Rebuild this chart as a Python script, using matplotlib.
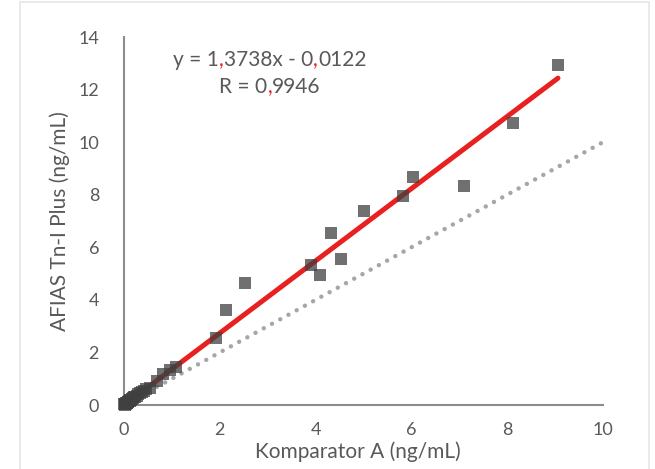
import matplotlib.pyplot as plt
from matplotlib.patches import Rectangle

plt.rcParams['font.family'] = ['Lato', 'DejaVu Sans']

TEXT = '#595959'

# Komparator A (x) vs AFIAS Tn-I Plus (y), ng/mL
komparator = [0.01, 0.02, 0.02, 0.03, 0.04, 0.05, 0.06, 0.07, 0.08, 0.09,
              0.10, 0.12, 0.13, 0.15, 0.17, 0.19, 0.21, 0.24, 0.27, 0.30,
              0.33, 0.37, 0.41, 0.45, 0.55, 0.69, 0.82, 0.97, 1.08,
              1.92, 2.13, 2.53, 3.90, 4.09, 4.32, 4.53, 5.01, 5.82, 6.03,
              7.10, 8.12, 9.06]
afias = [0.02, 0.01, 0.04, 0.03, 0.06, 0.05, 0.08, 0.09, 0.10, 0.13,
         0.14, 0.15, 0.19, 0.20, 0.23, 0.25, 0.29, 0.31, 0.36, 0.40,
         0.46, 0.50, 0.55, 0.60, 0.66, 0.92, 1.18, 1.34, 1.45,
         2.56, 3.63, 4.66, 5.34, 4.96, 6.56, 5.57, 7.37, 7.94, 8.66,
         8.32, 10.72, 12.95]

slope = 1.3738
intercept = -0.0122
identity = [0, 10]

fig = plt.figure(figsize=(6.55, 4.69), dpi=100)
fig.patches.append(Rectangle((20 / 655, -0.05), 629 / 655, 1.05 - 2 / 469,
                             transform=fig.transFigure, fill=False,
                             edgecolor='#e6e6e6', linewidth=1.2))

ax = fig.add_axes([124 / 655, 1 - 405 / 469, 479 / 655, 368 / 469])

# y = x reference
ax.plot(identity, identity, color='#a6a6a6', lw=3.2, linestyle=(0, (0.01, 2.1)),
        dash_capstyle='round', clip_on=False, zorder=2)

# linear trend
x0, x1 = 0, max(komparator)
ax.plot([x0, x1], [slope * x0 + intercept, slope * x1 + intercept],
        color='#e8201f', lw=3.6, solid_capstyle='round', clip_on=False, zorder=3)

ax.plot(komparator, afias, 's', ms=8, color='#404040', alpha=0.75,
        markeredgewidth=0, clip_on=False, zorder=4)

ax.set_xlim(0, 10)
ax.set_ylim(0, 14)
ax.set_xticks(range(0, 11, 2))
ax.set_yticks(range(0, 15, 2))
ax.tick_params(length=0, labelsize=13, labelcolor=TEXT)
ax.tick_params(axis='y', pad=18)
ax.tick_params(axis='x', pad=12)
for side in ['top', 'right']:
    ax.spines[side].set_visible(False)
for side in ['left', 'bottom']:
    ax.spines[side].set_color('#8c8c8c')
    ax.spines[side].set_linewidth(1.5)

ax.set_xlabel('Komparator A (ng/mL)', fontsize=15, color=TEXT, labelpad=3)
ax.set_ylabel('AFIAS Tn-I Plus (ng/mL)', fontsize=15, color=TEXT, labelpad=6)
ax.xaxis.label.set_x(0.5 - 6 / 479)


def colored_text(parts, x, y):
    # chain pieces so the decimal commas can be red
    pieces = []
    prev = None
    for s, c in parts:
        if prev is None:
            prev = fig.text(x, y, s, color=c, fontsize=15, ha='left', va='center')
        else:
            prev = ax.annotate(s, xy=(1, 0), xycoords=prev, color=c, fontsize=15,
                               ha='left', va='bottom')
        pieces.append(prev)
    return pieces


def centered(parts, cx, y):
    pieces = colored_text(parts, 0, y)
    fig.canvas.draw()
    r = fig.canvas.get_renderer()
    left = pieces[0].get_window_extent(r).x0
    right = pieces[-1].get_window_extent(r).x1
    w = (right - left) / fig.bbox.width
    pieces[0].set_x(cx - w / 2)


centered([('y = 1', TEXT), (',', '#e8201f'), ('3738x - 0', TEXT),
          (',', '#e8201f'), ('0122', TEXT)], 270 / 655, 1 - 60 / 469)
centered([('R = 0', TEXT), (',', '#e8201f'), ('9946', TEXT)], 270 / 655, 1 - 87 / 469)

fig.savefig('out.png', dpi=100)
